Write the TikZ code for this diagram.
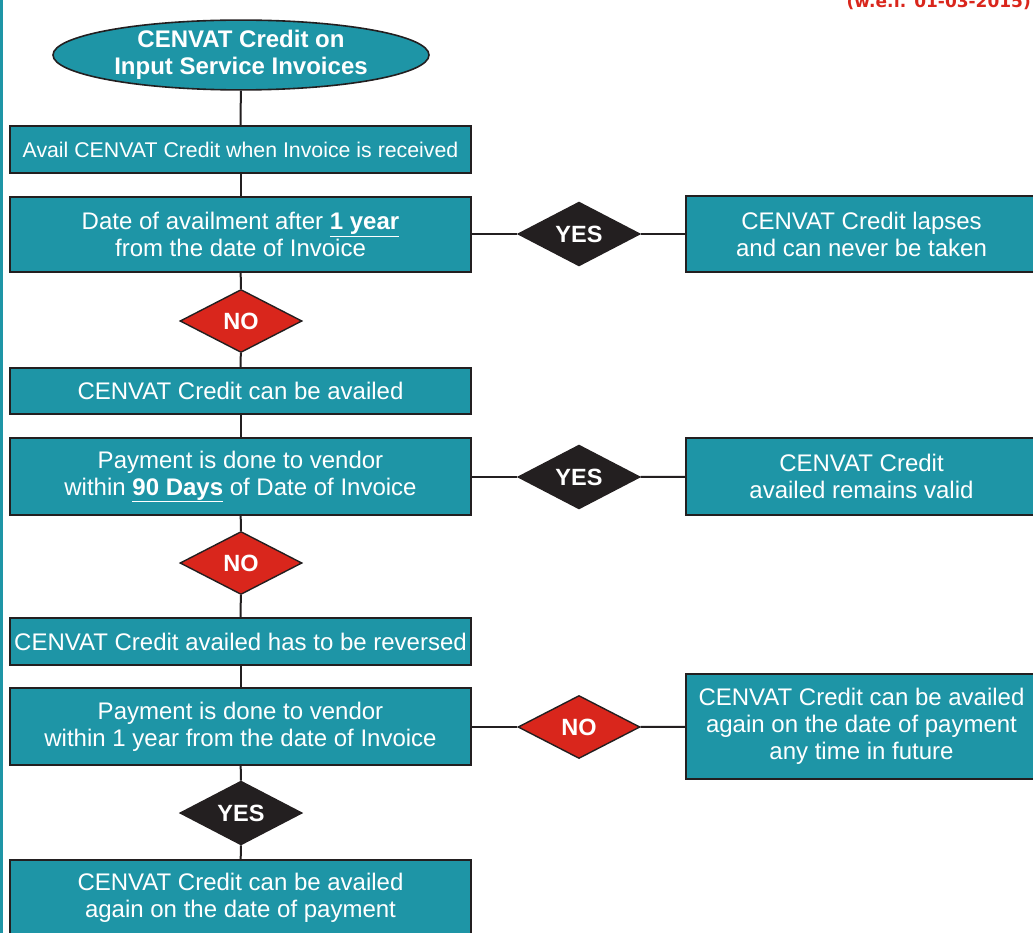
\documentclass[tikz,border=0pt]{standalone}
\usepackage{fontspec}
\setmainfont{Liberation Sans}
\newfontfamily\tagfont{DejaVu Sans}
\usetikzlibrary{shapes.geometric}
\definecolor{teal1}{RGB}{30,149,166}
\definecolor{red1}{RGB}{217,38,28}
\definecolor{dark1}{RGB}{35,31,32}
\begin{document}
\begin{tikzpicture}[x=1pt,y=-1pt,
 box/.style={draw=dark1,line width=1.6pt,fill=teal1,text=white,font=\fontsize{24}{27}\selectfont,align=center,inner sep=0pt},
 dia/.style={diamond,draw=dark1,line width=1.4pt,text=white,font=\bfseries\fontsize{23.5}{26}\selectfont,minimum width=122pt,minimum height=63pt,inner sep=0pt},
 diared/.style={dia,fill=red1},
 diablack/.style={dia,fill=dark1},
 link/.style={draw=dark1,line width=2pt}]
\useasboundingbox (0,0) rectangle (1033,933);
\clip (0,0) rectangle (1033,933);
\fill[teal1] (0,0) rectangle (3,933);
\node[anchor=base east,text=red1,font=\tagfont\bfseries\fontsize{17}{20}\selectfont,inner sep=0pt] (tag) at (1031,7.5) {(w.e.f. 01-03-2015)};
% start
\node[ellipse,draw=dark1,line width=1.6pt,fill=teal1,minimum width=376pt,minimum height=66pt,inner sep=0pt,text=white,align=center,font=\bfseries\fontsize{24}{27}\selectfont] (e) at (241,55) {CENVAT Credit on\\Input Service Invoices};
% left column
\node[box,minimum width=461pt,minimum height=47pt,font=\fontsize{21.3}{26}\selectfont] (b1) at (240.5,149.5) {Avail CENVAT Credit when Invoice is received};
\node[box,minimum width=461pt,minimum height=75pt] (b2) at (240.5,234.5) {Date of availment after \underline{\textbf{1 year}}\\from the date of Invoice};
\node[diared] (n1) at (241,321) {NO};
\node[box,minimum width=461pt,minimum height=46pt] (b3) at (240.5,391) {CENVAT Credit can be availed};
\node[box,minimum width=461pt,minimum height=77pt] (b4) at (240.5,476.5) {Payment is done to vendor\\within \underline{\textbf{90 Days}} of Date of Invoice};
\node[diared] (n2) at (241,563) {NO};
\node[box,minimum width=461pt,minimum height=47pt] (b5) at (240.5,641.5) {CENVAT Credit availed has to be reversed};
\node[box,minimum width=461pt,minimum height=77pt] (b6) at (240.5,726.5) {Payment is done to vendor\\within 1 year from the date of Invoice};
\node[diablack] (y3) at (241,813) {YES};
\node[box,minimum width=461pt,minimum height=76pt] (b7) at (240.5,898) {CENVAT Credit can be availed\\again on the date of payment};
% right column
\node[diablack] (y1) at (579,234) {YES};
\node[box,minimum width=351pt,minimum height=76pt] (r1) at (861.5,234) {CENVAT Credit lapses\\and can never be taken};
\node[diablack] (y2) at (579,477) {YES};
\node[box,minimum width=351pt,minimum height=77pt] (r2) at (861.5,476.5) {CENVAT Credit\\availed remains valid};
\node[diared] (n3) at (579,727) {NO};
\node[box,minimum width=351pt,minimum height=105pt] (r3) at (861.5,726.5) {CENVAT Credit can be availed\\again on the date of payment\\any time in future};
% connectors
\draw[link] (e) -- (b1);
\draw[link] (b1) -- (b2);
\draw[link] (b2) -- (n1);
\draw[link] (n1) -- (b3);
\draw[link] (b3) -- (b4);
\draw[link] (b4) -- (n2);
\draw[link] (n2) -- (b5);
\draw[link] (b5) -- (b6);
\draw[link] (b6) -- (y3);
\draw[link] (y3) -- (b7);
\draw[link] (b2.east |- y1) -- (y1);
\draw[link] (y1) -- (r1);
\draw[link] (b4.east |- y2) -- (y2);
\draw[link] (y2) -- (r2);
\draw[link] (b6.east |- n3) -- (n3);
\draw[link] (n3) -- (r3);
\end{tikzpicture}
\end{document}
